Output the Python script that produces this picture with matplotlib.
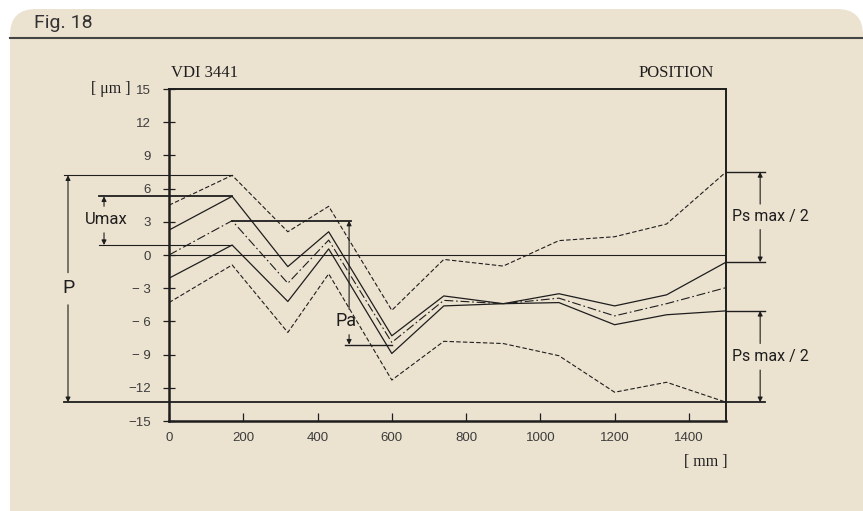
import matplotlib
matplotlib.use("Agg")
import matplotlib.pyplot as plt
from matplotlib.patches import FancyBboxPatch

# positions along the axis [mm]
x_mm = [0, 170, 320, 430, 600, 740, 900, 1050, 1200, 1340, 1500]
# deviations [um]
up_dashed = [4.5, 7.2, 2.1, 4.4, -5.0, -0.4, -1.0, 1.3, 1.65, 2.8, 7.5]
up_solid = [2.25, 5.3, -1.05, 2.1, -7.3, -3.7, -4.4, -3.5, -4.6, -3.6, -0.65]
mean_dd = [0.0, 3.1, -2.55, 1.35, -7.9, -4.1, -4.4, -3.9, -5.5, -4.4, -2.95]
low_solid = [-2.1, 0.9, -4.2, 0.55, -8.9, -4.6, -4.4, -4.3, -6.3, -5.4, -5.05]
low_dashed = [-4.3, -0.9, -7.0, -1.7, -11.3, -7.8, -8.0, -9.1, -12.4, -11.5, -13.3]

yticks = [15, 12, 9, 6, 3, 0, -3, -6, -9, -12, -15]
ytick_labels = ["15", "12", "9", "6", "3", "0", "\u2212 3", "\u2212 6", "\u2212 9", "\u221212", "\u221215"]
xticks = [0, 200, 400, 600, 800, 1000, 1200, 1400]

BG = "#ece2d0"
INK = "#1e1e1e"
GREY = "#3c3c3c"
NARROW = ["Roboto", "DejaVu Sans"]
SERIF = ["Liberation Serif", "DejaVu Serif"]

fig = plt.figure(figsize=(8.63, 5.11), dpi=100)
fig.patch.set_facecolor("white")

# background panel, in pixel units
bg = fig.add_axes([0, 0, 1, 1], zorder=-5)
bg.set_xlim(0, 863)
bg.set_ylim(511, 0)
bg.axis("off")
bg.add_patch(FancyBboxPatch((10, 9), 853, 530, boxstyle="round,pad=0,rounding_size=26",
                            fc=BG, ec="none"))
bg.plot([10, 863], [38.5, 38.5], color="#444444", lw=1.5)
bg.text(34, 23, "Fig. 18", fontsize=14, family=["Roboto", "DejaVu Sans"], color="#333333",
        va="center", ha="left")

ax = fig.add_axes([169 / 863, 90 / 511, 557 / 863, 332 / 511])
ax.set_facecolor("none")
ax.set_xlim(0, 1500)
ax.set_ylim(-15, 15)

ax.plot(x_mm, up_dashed, color=INK, lw=0.8, ls=(0, (4, 2)))
ax.plot(x_mm, up_solid, color=INK, lw=0.9)
ax.plot(x_mm, mean_dd, color=INK, lw=0.8, ls=(0, (8, 2.5, 1.5, 2.5)))
ax.plot(x_mm, low_solid, color=INK, lw=0.9)
ax.plot(x_mm, low_dashed, color=INK, lw=0.8, ls=(0, (4, 2)))
ax.axhline(0, color=INK, lw=0.8)

for s in ax.spines.values():
    s.set_color(INK)
ax.spines["left"].set_linewidth(1.8)
ax.spines["bottom"].set_linewidth(1.8)
ax.spines["top"].set_linewidth(1.4)
ax.spines["right"].set_linewidth(1.4)

ax.set_yticks(yticks)
ax.set_yticklabels(ytick_labels)
ax.set_xticks(xticks)
ax.set_xticklabels([str(v) for v in xticks])
ax.tick_params(axis="y", direction="inout", length=8, width=0.9, colors=INK, labelcolor=GREY,
               labelsize=9.5, pad=9)
ax.tick_params(axis="x", direction="in", length=6, width=0.9, colors=INK, labelcolor=GREY,
               labelsize=9.5, pad=8)
for lab in ax.get_xticklabels() + ax.get_yticklabels():
    lab.set_family(["Liberation Sans", "DejaVu Sans"])


def hline(y, x0, x1, lw=0.8):
    ax.plot([x0, x1], [y, y], color=INK, lw=lw, clip_on=False)


def arrow(x, y0, y1):
    ax.annotate("", xy=(x, y1), xytext=(x, y0), annotation_clip=False,
                arrowprops=dict(arrowstyle="-|>", lw=0.8, color=INK, mutation_scale=7,
                                shrinkA=0, shrinkB=0))


# extension lines
hline(7.2, -282, 170, 0.8)
hline(5.3, -188, 170, 1.3)
hline(0.9, -188, 170, 0.8)
hline(-13.3, -282, 1605, 1.3)
hline(3.1, 170, 490, 1.3)
hline(-8.1, 475, 600, 1.0)
hline(7.5, 1500, 1605, 1.0)
hline(-0.65, 1500, 1605, 1.0)
hline(-5.05, 1500, 1605, 1.0)

# P
arrow(-272, -1.6, 7.2)
arrow(-272, -4.5, -13.3)
ax.text(-271, -3.0, "P", fontsize=14, family=NARROW, color=INK, ha="center", va="center",
        clip_on=False)

# Umax
arrow(-175, 4.4, 5.3)
arrow(-175, 2.0, 0.9)
ax.text(-170, 3.2, "Umax", fontsize=12, family=NARROW, color=INK, ha="center", va="center",
        clip_on=False)

# Pa
arrow(485, -4.9, 3.1)
arrow(485, -7.2, -8.1)
ax.text(477, -6.0, "Pa", fontsize=13, family=NARROW, color=INK, ha="center", va="center")

# Ps max / 2
arrow(1592, 4.6, 7.5)
arrow(1592, 2.3, -0.65)
ax.text(1620, 3.45, "Ps max / 2", fontsize=11.5, family=NARROW, color=INK, ha="center",
        va="center", clip_on=False)
arrow(1592, -8.0, -5.05)
arrow(1592, -10.4, -13.3)
ax.text(1620, -9.2, "Ps max / 2", fontsize=11.5, family=NARROW, color=INK, ha="center",
        va="center", clip_on=False)

# serif labels
bg.text(171, 73, "VDI 3441", fontsize=12, family=SERIF, color=INK, ha="left", va="center")
bg.text(714, 73, "POSITION", fontsize=12, family=SERIF, color=INK, ha="right", va="center")
bg.text(131, 89, "[ \u03bcm ]", fontsize=11.5, family=SERIF, color=INK, ha="right", va="center")
bg.text(728, 462, "[ mm ]", fontsize=11.5, family=SERIF, color=INK, ha="right", va="center")

fig.savefig("out.png", dpi=100, facecolor=fig.get_facecolor())
